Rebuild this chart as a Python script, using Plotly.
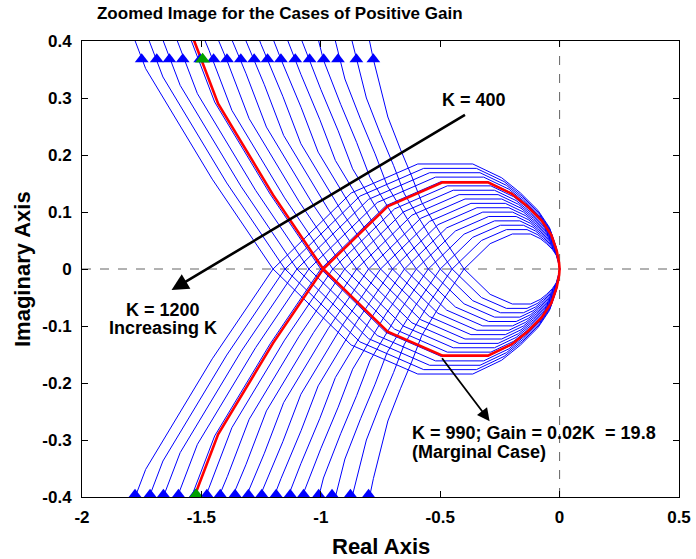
import plotly.graph_objects as go
import numpy as np

# ---- data ----
# base frequency response (red, marginal case K = 990), branch that comes from the top
base_re = [-2.00, -1.93, -1.78, -1.65, -1.53, -1.43, -1.20, -0.99, -0.72, -0.49,
           -0.30, -0.20, -0.135, -0.075, -0.035, -0.012, -0.002, 0.0]
base_im = [1.05, 0.91, 0.66, 0.52, 0.40, 0.29, 0.13, 0.0, -0.11, -0.152,
           -0.152, -0.132, -0.110, -0.085, -0.060, -0.032, -0.010, 0.0]
K_base = 990
K_values = [400, 450, 500, 550, 600, 650, 700, 750, 800, 850,
            900, 950, 1000, 1050, 1100, 1150, 1200]

# arrow markers (direction indicators) positions
arrow_top_y = 0.368
arrow_bot_y = -0.396
arrow_top_x = [-0.780, -0.851, -0.928, -0.988, -1.047, -1.107, -1.167, -1.223, -1.279,
               -1.335, -1.393, -1.449, -1.505, -1.578, -1.634, -1.687, -1.750]
arrow_bot_x = [-0.800, -0.876, -0.953, -1.009, -1.072, -1.128, -1.187, -1.247, -1.303,
               -1.359, -1.421, -1.477, -1.526, -1.596, -1.659, -1.715, -1.778]
green_top = (-1.495, 0.368)
green_bot = (-1.522, -0.396)

x_ticks = [-2, -1.5, -1, -0.5, 0, 0.5]
x_ticklabels = ["-2", "-1.5", "-1", "-0.5", "0", "0.5"]
y_ticks = [-0.4, -0.3, -0.2, -0.1, 0, 0.1, 0.2, 0.3, 0.4]
y_ticklabels = ["-0.4", "-0.3", "-0.2", "-0.1", "0", "0.1", "0.2", "0.3", "0.4"]

FONT = "Liberation Sans, Arial, sans-serif"
BLUE = "rgb(0,0,255)"

fig = go.Figure()

re0 = np.array(base_re)
im0 = np.array(base_im)

for K in K_values:
    s = K / K_base
    xs = list(re0 * s) + [None] + list(re0 * s)
    ys = list(im0 * s) + [None] + list(-im0 * s)
    fig.add_trace(go.Scatter(x=xs, y=ys, mode="lines",
                             line=dict(color=BLUE, width=1), hoverinfo="skip",
                             showlegend=False))

# red marginal case
fig.add_trace(go.Scatter(x=list(re0) + [None] + list(re0),
                         y=list(im0) + [None] + list(-im0), mode="lines",
                         line=dict(color="rgb(255,0,0)", width=2.6), showlegend=False))

# arrow markers
fig.add_trace(go.Scatter(x=arrow_top_x + arrow_bot_x,
                         y=[arrow_top_y] * len(arrow_top_x) + [arrow_bot_y] * len(arrow_bot_x),
                         mode="markers",
                         marker=dict(symbol="triangle-up", size=12, color=BLUE,
                                     line=dict(width=0)),
                         showlegend=False, cliponaxis=False))
fig.add_trace(go.Scatter(x=[green_top[0], green_bot[0]], y=[green_top[1], green_bot[1]],
                         mode="markers",
                         marker=dict(symbol="triangle-up", size=13, color="rgb(0,160,0)",
                                     line=dict(width=0)),
                         showlegend=False, cliponaxis=False))

# dashed axes lines
fig.add_shape(type="line", x0=-2, x1=0.5, y0=0, y1=0, xref="x", yref="y",
              line=dict(color="rgb(100,100,100)", width=1, dash="dash"), layer="below")
fig.add_shape(type="line", x0=0, x1=0, y0=-0.4, y1=0.4, xref="x", yref="y",
              line=dict(color="rgb(100,100,100)", width=1, dash="dash"), layer="below")

ann = dict(family=FONT, size=18, color="black", weight="bold")
tick = dict(family=FONT, size=17, color="black", weight="bold")
lab = dict(family=FONT, size=22, color="black", weight="bold")

# arrows
fig.add_annotation(x=-1.625, y=-0.037, ax=-0.39, ay=0.272, xref="x", yref="y",
                   axref="x", ayref="y", text="", showarrow=True, arrowhead=2,
                   arrowsize=1.3, arrowwidth=2.6, arrowcolor="black")
fig.add_annotation(x=-0.293, y=-0.267, ax=-0.497, ay=-0.154, xref="x", yref="y",
                   axref="x", ayref="y", text="", showarrow=True, arrowhead=2,
                   arrowsize=1.4, arrowwidth=1.8, arrowcolor="black")
# texts
fig.add_annotation(x=-0.50, y=0.297, xref="x", yref="y", text="K = 400",
                   showarrow=False, xanchor="left", yanchor="middle", font=ann)
fig.add_annotation(x=-1.66, y=-0.072, xref="x", yref="y", text="K = 1200",
                   showarrow=False, xanchor="center", yanchor="middle", font=ann)
fig.add_annotation(x=-1.66, y=-0.104, xref="x", yref="y", text="Increasing K",
                   showarrow=False, xanchor="center", yanchor="middle", font=ann)
fig.add_annotation(x=-0.625, y=-0.288, xref="x", yref="y",
                   text="K = 990; Gain = 0.02K &nbsp;= 19.8",
                   showarrow=False, xanchor="left", yanchor="middle", font=ann)
fig.add_annotation(x=-0.625, y=-0.321, xref="x", yref="y", text="(Marginal Case)",
                   showarrow=False, xanchor="left", yanchor="middle", font=ann)

# axis titles
fig.add_annotation(x=0.5, y=-0.1096, xref="paper", yref="paper", text="Real Axis",
                   showarrow=False, xanchor="center", yanchor="middle", font=lab)
fig.add_annotation(x=-0.1005, y=0.5, xref="paper", yref="paper", text="Imaginary Axis",
                   textangle=-90, showarrow=False, xanchor="center", yanchor="middle",
                   font=lab)

fig.update_layout(
    width=696, height=559,
    margin=dict(l=82, r=17, t=41, b=62, autoexpand=False),
    plot_bgcolor="white", paper_bgcolor="white",
    title=dict(text="Zoomed Image for the Cases of Positive Gain",
               x=0.402, xanchor="center", y=0.976, yanchor="middle",
               font=dict(family=FONT, size=17, color="black", weight="bold")),
    xaxis=dict(range=[-2, 0.5], tickvals=x_ticks, ticktext=x_ticklabels,
               showgrid=False, zeroline=False, showline=True, linecolor="black",
               linewidth=1, mirror="allticks", ticks="inside", ticklen=6,
               tickcolor="black", tickfont=tick, ticklabelstandoff=5, automargin=False),
    yaxis=dict(range=[-0.4, 0.4], tickvals=y_ticks, ticktext=y_ticklabels,
               showgrid=False, zeroline=False, showline=True, linecolor="black",
               linewidth=1, mirror="allticks", ticks="inside", ticklen=6,
               tickcolor="black", tickfont=tick, ticklabelstandoff=6, automargin=False),
)

fig.write_html("out.html")
